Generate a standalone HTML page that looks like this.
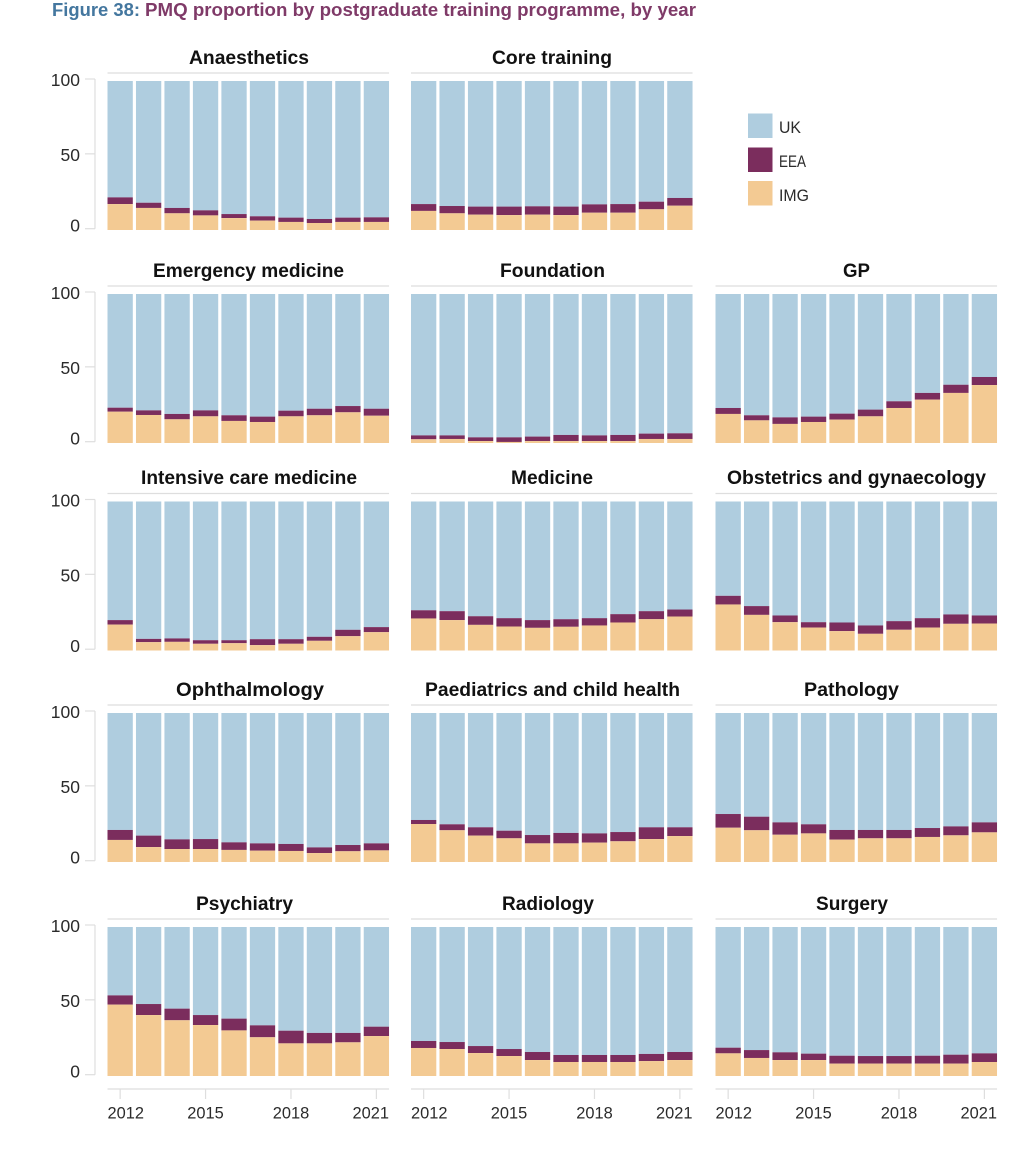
<!DOCTYPE html>
<html lang="en">
<head>
<meta charset="utf-8">
<title>PMQ proportion by postgraduate training programme, by year</title>
<style>
  html, body { margin: 0; padding: 0; background: #ffffff; }
  #chart-svg { display: block; }
  text { font-family: "Liberation Sans", sans-serif; }
  .panel-title { font-size: 19px; font-weight: 700; fill: #111111; text-anchor: middle; }
  .axis-label { font-size: 17px; fill: #2b2b2b; }
  .y-label { font-size: 17.5px; }
  .legend-label { font-size: 16.5px; fill: #2b2b2b; }
</style>
</head>
<body>
<svg id="chart-svg" xmlns="http://www.w3.org/2000/svg" width="1035" height="1159" viewBox="0 0 1035 1159">
  <text x="52" y="16" font-size="18.5" font-weight="700"><tspan fill="#44779f" textLength="88" lengthAdjust="spacingAndGlyphs">Figure 38:</tspan><tspan x="145" fill="#7f3a68" textLength="551" lengthAdjust="spacingAndGlyphs">PMQ proportion by postgraduate training programme, by year</tspan></text>

  <text class="panel-title" x="249" y="64" textLength="120" lengthAdjust="spacingAndGlyphs">Anaesthetics</text>
  <text class="panel-title" x="552" y="64" textLength="120" lengthAdjust="spacingAndGlyphs">Core training</text>
  <text class="panel-title" x="248.5" y="277" textLength="191" lengthAdjust="spacingAndGlyphs">Emergency medicine</text>
  <text class="panel-title" x="552.5" y="277" textLength="105" lengthAdjust="spacingAndGlyphs">Foundation</text>
  <text class="panel-title" x="856.5" y="277" textLength="27" lengthAdjust="spacingAndGlyphs">GP</text>
  <text class="panel-title" x="249" y="484" textLength="216" lengthAdjust="spacingAndGlyphs">Intensive care medicine</text>
  <text class="panel-title" x="552" y="484" textLength="82" lengthAdjust="spacingAndGlyphs">Medicine</text>
  <text class="panel-title" x="856.5" y="484" textLength="259" lengthAdjust="spacingAndGlyphs">Obstetrics and gynaecology</text>
  <text class="panel-title" x="250" y="696" textLength="148" lengthAdjust="spacingAndGlyphs">Ophthalmology</text>
  <text class="panel-title" x="552.5" y="696" textLength="255" lengthAdjust="spacingAndGlyphs">Paediatrics and child health</text>
  <text class="panel-title" x="851.5" y="696" textLength="95" lengthAdjust="spacingAndGlyphs">Pathology</text>
  <text class="panel-title" x="244.5" y="910" textLength="97" lengthAdjust="spacingAndGlyphs">Psychiatry</text>
  <text class="panel-title" x="548" y="910" textLength="92" lengthAdjust="spacingAndGlyphs">Radiology</text>
  <text class="panel-title" x="852" y="910" textLength="72" lengthAdjust="spacingAndGlyphs">Surgery</text>

  <g>
    <rect x="748" y="113.5" width="24.5" height="24.5" fill="#afcddf"/>
    <text class="legend-label" x="779" y="133" textLength="22" lengthAdjust="spacingAndGlyphs">UK</text>
    <rect x="748" y="147.5" width="24.5" height="24.5" fill="#7b2d5d"/>
    <text class="legend-label" x="779" y="167" textLength="27" lengthAdjust="spacingAndGlyphs">EEA</text>
    <rect x="748" y="181" width="24.5" height="24.5" fill="#f3ca93"/>
    <text class="legend-label" x="779" y="201" textLength="30" lengthAdjust="spacingAndGlyphs">IMG</text>
  </g>
  <g id="panels"></g>
</svg>
<script>
const years = [2012, 2013, 2014, 2015, 2016, 2017, 2018, 2019, 2020, 2021];
const xTickYears = [2012, 2015, 2018, 2021];
const yTickValues = [100, 50, 0];
const programmes = ["anaesthetics", "core-training", "emergency-medicine", "foundation", "gp", "intensive-care-medicine", "medicine", "obstetrics-and-gynaecology", "ophthalmology", "paediatrics-and-child-health", "pathology", "psychiatry", "radiology", "surgery"];

const imgAnaesthetics = [17.4, 14.8, 11.2, 9.8, 8, 6.3, 5.4, 4.7, 5.4, 5.4];
const imgCore = [12.8, 11.2, 10.3, 10, 10.3, 10, 11.6, 11.6, 13.9, 16.3];
const imgEmergency = [21, 18.8, 15.9, 17.9, 14.8, 14.1, 17.9, 18.6, 20.6, 18.3];
const imgFoundation = [2.5, 2.7, 1.3, 0.7, 1.3, 1.3, 1.3, 1.3, 2.7, 2.7];
const imgGp = [19.5, 15.2, 12.8, 14.1, 15.7, 17.9, 23.5, 29.1, 33.6, 38.9];
const imgIntensive = [17.4, 5.6, 5.8, 4.5, 4.9, 3.6, 4.5, 6.5, 9.6, 12.3];
const imgMedicine = [21.5, 20.4, 17.2, 16.1, 15.2, 15.9, 16.8, 18.8, 21, 22.8];
const imgObstetrics = [30.9, 23.9, 19, 15.4, 13, 11.2, 13.9, 15.4, 17.9, 18.1];
const imgOphthalmology = [14.8, 10, 8.7, 8.7, 8.1, 7.6, 7.4, 6, 7.2, 7.8];
const imgPaediatrics = [25.5, 21.3, 17.7, 15.9, 12.5, 12.5, 13, 13.9, 15.4, 17.4];
const imgPathology = [23, 21.3, 18.3, 19.2, 15, 15.9, 15.9, 16.8, 17.9, 19.9];
const imgPsychiatry = [47.9, 40.9, 37.4, 34.2, 30.6, 26, 21.9, 21.9, 22.6, 26.8];
const imgRadiology = [18.8, 18.1, 15.4, 13.4, 10.7, 9.4, 9.4, 9.4, 10, 10.7];
const imgSurgery = [15.2, 12.1, 10.7, 10.7, 8.3, 8.3, 8.3, 8.3, 8.3, 9.4];

const eeaAnaesthetics = [4.5, 3.5, 3.6, 3.4, 2.7, 2.9, 2.9, 2.7, 2.9, 3.1];
const eeaCore = [4.6, 4.9, 5.4, 5.7, 5.6, 5.7, 5.6, 5.8, 5.1, 5.2];
const eeaEmergency = [2.7, 3.1, 3.6, 4, 3.8, 3.6, 3.8, 4.4, 4.2, 4.7];
const eeaFoundation = [2.6, 2.4, 2.5, 3.1, 3, 4.1, 3.8, 4.1, 3.6, 3.8];
const eeaGp = [4, 3.4, 4.4, 3.6, 4, 4.5, 4.5, 4.5, 5.5, 5.4];
const eeaIntensive = [3, 2.2, 2.3, 2.4, 2, 4, 3.1, 2.7, 4.3, 3.4];
const eeaMedicine = [5.5, 6, 5.8, 5.6, 5.2, 5.1, 4.9, 5.6, 5.4, 4.7];
const eeaObstetrics = [5.8, 5.9, 4.5, 3.6, 5.8, 5.6, 5.8, 6.3, 6.3, 5.4];
const eeaOphthalmology = [6.7, 7.7, 6.5, 6.7, 5.1, 4.9, 4.7, 3.8, 4.2, 4.7];
const eeaPaediatrics = [2.7, 4, 5.6, 5.1, 5.6, 7, 6.2, 6.2, 7.9, 5.9];
const eeaPathology = [9.2, 9.1, 8.3, 6.1, 6.5, 5.6, 5.6, 6, 6, 6.7];
const eeaPsychiatry = [6.2, 7.4, 7.8, 6.7, 7.9, 8, 8.5, 7, 6.3, 6.3];
const eeaRadiology = [4.7, 4.7, 4.7, 4.7, 5.4, 4.7, 4.7, 4.7, 4.8, 5.4];
const eeaSurgery = [3.8, 5.3, 5.2, 4.3, 5.3, 5.1, 5.1, 5.3, 6, 5.8];

const imgSeries = [imgAnaesthetics, imgCore, imgEmergency, imgFoundation, imgGp, imgIntensive, imgMedicine, imgObstetrics, imgOphthalmology, imgPaediatrics, imgPathology, imgPsychiatry, imgRadiology, imgSurgery];
const eeaSeries = [eeaAnaesthetics, eeaCore, eeaEmergency, eeaFoundation, eeaGp, eeaIntensive, eeaMedicine, eeaObstetrics, eeaOphthalmology, eeaPaediatrics, eeaPathology, eeaPsychiatry, eeaRadiology, eeaSurgery];

const SVG_NS = "http://www.w3.org/2000/svg";
const root = document.getElementById("panels");
const COL_LEFT = [107.5, 411, 715.5];
const ROW_TOP = [81, 294, 501.5, 713, 927];
const BAR_WIDTH = 25.3;
const BAR_STEP = 28.47;
const BAR_SCALE = 1.49;
const COLOURS = { uk: "#afcddf", eea: "#7b2d5d", img: "#f3ca93", rule: "#dedede" };

function xBar(left, yearIndex) { return left + yearIndex * BAR_STEP; }
function yBar(top, value) { return top + 149 - value * BAR_SCALE; }
function yAxis(top, value) { return top + 147.7 - value * 1.497; }
function xYearCentre(left, year) { return xBar(left, years.indexOf(year)) + BAR_WIDTH / 2; }
function yLabelOffset(value) { return value === 0 ? 3 : value === 50 ? 7 : 7; }

function make(tag, attrs, parent, text) {
  const el = document.createElementNS(SVG_NS, tag);
  Object.keys(attrs).forEach(function (k) { el.setAttribute(k, attrs[k]); });
  if (text !== undefined) el.textContent = text;
  parent.appendChild(el);
  return el;
}

function line(parent, x1, y1, x2, y2) {
  return make("line", { x1: x1, y1: y1, x2: x2, y2: y2, stroke: COLOURS.rule, "stroke-width": 1.2 }, parent);
}

programmes.forEach(function (name, p) {
  const slot = p < 2 ? p : p + 1;
  const col = slot % 3;
  const row = Math.floor(slot / 3);
  const left = COL_LEFT[col];
  const top = ROW_TOP[row];
  const right = xBar(left, years.length - 1) + BAR_WIDTH;

  const g = make("g", {}, root);
  
  

  const rule = line(g, left, top - 8, right, top - 8);
  
  

  years.forEach(function (year, i) {
    const x = xBar(left, i);
    const img = imgSeries[p][i];
    const eea = eeaSeries[p][i];
    const yImg = yBar(top, img);
    const yEea = yBar(top, img + eea);
    const yUk = yBar(top, 100);

    const ukBar = make("rect", { x: x, y: yUk, width: BAR_WIDTH, height: yEea - yUk, fill: COLOURS.uk }, g);
    
    

    const eeaBar = make("rect", { x: x, y: yEea, width: BAR_WIDTH, height: yImg - yEea, fill: COLOURS.eea }, g);
    
    

    const imgBar = make("rect", { x: x, y: yImg, width: BAR_WIDTH, height: yBar(top, 0) - yImg, fill: COLOURS.img }, g);
    
    
  });

  if (col === 0) {
    const yLine = line(g, 95, yAxis(top, 100), 95, yAxis(top, 0));
    
    
    yTickValues.forEach(function (v) {
      const tick = line(g, 85, yAxis(top, v), 95, yAxis(top, v));
      
      
      const label = make("text", { class: "axis-label y-label", x: 80, y: yAxis(top, v) + yLabelOffset(v), "text-anchor": "end" }, g, String(v));
      
      
    });
  }

  if (row === 4) {
    const xLine = line(g, left, 1089, right, 1089);
    
    
    xTickYears.forEach(function (year, t) {
      const cx = xYearCentre(left, year);
      const tick = line(g, cx, 1089, cx, 1099);
      
      
      const first = t === 0;
      const last = t === xTickYears.length - 1;
      const label = make("text", {
        class: "axis-label",
        x: first ? left : last ? right : cx,
        y: 1118.5,
        "text-anchor": first ? "start" : last ? "end" : "middle",
        textLength: 36.5,
        lengthAdjust: "spacingAndGlyphs"
      }, g, String(year));
      
      
    });
  }
});
</script>
</body>
</html>
